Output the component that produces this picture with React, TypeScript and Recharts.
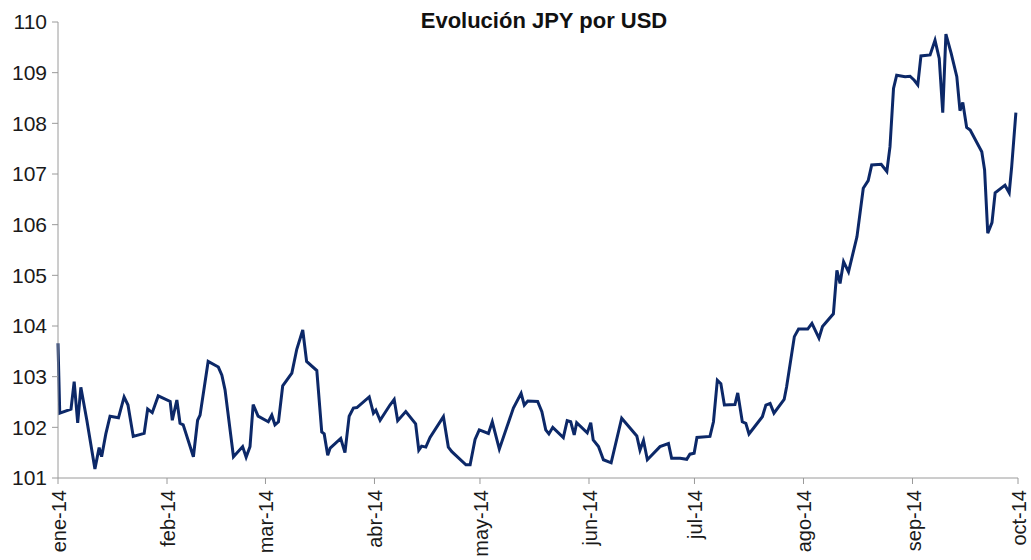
import { LineChart, Line, XAxis, YAxis } from "recharts";

// day offset from 1 Jan 2014 and JPY per USD
const days = [
  0, 0.5, 3.7, 4.6, 5.6, 6.5, 8.2, 10.5, 11.7, 12.4, 13.6, 14.8, 17.2, 18.8, 19.9, 21.4, 24.5, 25.5, 26.8, 28.5,
  31.9, 32.5, 33.8, 34.7, 35.6, 38.5, 39.7, 40.4, 42.7, 45.6, 46.6, 47.5, 49.9, 52.5, 53.5, 54.6, 55.5, 56.9,
  59.8, 60.8, 61.7, 62.7, 63.9, 66.5, 67.9, 69.6, 70.7, 73.6, 75.0, 75.7, 76.7, 77.4, 80.4, 81.6, 82.8, 84.0,
  85.0, 88.5, 89.7, 90.4, 91.6, 94.4, 95.6, 96.6, 98.9, 101.7, 102.6, 103.4, 104.6, 105.8, 109.6, 111.0, 112.0,
  116.0, 117.2, 118.6, 119.8, 122.4, 123.5, 125.5, 129.5, 131.7, 132.6, 133.6, 136.4, 137.6, 138.7, 139.6,
  140.7, 143.7, 144.8, 145.8, 146.8, 147.5, 150.5, 151.5, 152.2, 153.7, 155.1, 157.3, 160.3, 164.6, 165.5,
  166.5, 167.6, 171.2, 173.6, 174.5, 176.9, 178.8, 179.7, 180.9, 181.7, 185.4, 186.4, 187.5, 188.5, 189.5,
  192.5, 193.3, 194.6, 195.6, 196.5, 200.3, 201.3, 202.5, 203.6, 206.5, 207.2, 209.4, 210.6, 213.2, 214.4,
  216.4, 217.4, 220.5, 221.5, 222.4, 223.4, 224.8, 227.2, 229.0, 230.4, 231.4, 234.1, 235.7, 236.6, 237.6,
  238.5, 240.9, 242.3, 243.5, 244.5, 245.4, 248.0, 249.4, 250.6, 251.6, 252.5, 254.0, 255.6, 256.5, 257.3,
  258.4, 259.4, 262.7, 263.5, 264.4, 265.6, 266.5, 269.3, 270.5, 271.2, 272.4,
];

const jpyPerUsd = [
  103.66, 102.28, 102.36, 102.9, 102.09, 102.79, 102.14, 101.18, 101.6, 101.42, 101.87, 102.22, 102.19, 102.6, 102.44, 101.82, 101.88, 102.36, 102.29, 102.62,
  102.51, 102.14, 102.54, 102.08, 102.05, 101.42, 102.14, 102.24, 103.3, 103.19, 103.03, 102.74, 101.42, 101.62, 101.41, 101.62, 102.45, 102.22,
  102.11, 102.24, 102.05, 102.11, 102.82, 103.07, 103.54, 103.92, 103.3, 103.12, 101.91, 101.87, 101.45, 101.59, 101.78, 101.5, 102.22, 102.38,
  102.39, 102.6, 102.28, 102.34, 102.14, 102.44, 102.55, 102.13, 102.31, 102.07, 101.55, 101.63, 101.61, 101.8, 102.21, 101.61, 101.52,
  101.26, 101.26, 101.76, 101.95, 101.88, 102.11, 101.57, 102.38, 102.67, 102.44, 102.52, 102.51, 102.31, 101.95, 101.87,
  102.0, 101.8, 102.13, 102.11, 101.85, 102.09, 101.89, 102.09, 101.75, 101.62, 101.36, 101.3, 102.18, 101.83, 101.55,
  101.74, 101.36, 101.62, 101.68, 101.39, 101.39, 101.37, 101.47, 101.49, 101.8, 101.82, 102.11, 102.93, 102.86, 102.44,
  102.45, 102.68, 102.11, 102.08, 101.87, 102.21, 102.44, 102.47, 102.28, 102.55, 102.8, 103.79, 103.94, 103.94, 104.05,
  103.76, 103.99, 104.24, 105.1, 104.84, 105.27, 105.07, 105.76, 106.72, 106.87, 107.18, 107.19, 107.05, 107.54, 108.69,
  108.95, 108.92, 108.93, 108.85, 108.76, 109.33, 109.35, 109.64, 109.28, 108.21, 109.76, 109.38, 108.92, 108.25, 108.41,
  107.92, 107.87, 107.44, 107.08, 105.83, 106.04, 106.63, 106.78, 106.63, 107.14, 108.21,
];

const monthTicks = [0, 31, 59, 90, 120, 151, 181, 212, 243, 273];
const monthLabels = ["ene-14", "feb-14", "mar-14", "abr-14", "may-14", "jun-14", "jul-14", "ago-14", "sep-14", "oct-14"];
const yTicks = [101, 102, 103, 104, 105, 106, 107, 108, 109, 110];

const FONT = "'Liberation Sans', Arial, sans-serif";
const TEXT = "#1a1a1a";
const AXIS = "#9a9a9a";

const data = days.map((day, i) => ({ day, value: jpyPerUsd[i] }));

function MonthTick({ x, y, payload }: any) {
  const label = monthLabels[monthTicks.indexOf(payload.value)];
  return (
    <text
      x={0}
      y={0}
      transform={`translate(${x + 8},${y + 4}) rotate(-90)`}
      textAnchor="end"
      fontSize={20}
      fontFamily={FONT}
      fill={TEXT}
    >
      {label}
    </text>
  );
}

export default function App() {
  return (
    <div style={{ position: "absolute", left: 0, top: 0, width: 1031, height: 560, background: "#fff" }}>
      <div
        style={{
          position: "absolute",
          left: 344,
          top: 8,
          width: 400,
          textAlign: "center",
          fontFamily: FONT,
          fontWeight: "bold",
          fontSize: 22,
          color: "#111",
        }}
      >
        Evolución JPY por USD
      </div>
      <LineChart width={1031} height={560} data={data} margin={{ top: 22, right: 13, left: 0, bottom: 0 }}>
        <XAxis
          dataKey="day"
          type="number"
          domain={[0, 273]}
          ticks={monthTicks}
          interval={0}
          height={82}
          stroke={AXIS}
          tickSize={6}
          tickMargin={2}
          tick={<MonthTick />}
        />
        <YAxis
          type="number"
          domain={[101, 110]}
          ticks={yTicks}
          interval={0}
          width={58}
          stroke={AXIS}
          tickSize={6}
          tickMargin={5}
          tick={{ fontSize: 21, fontFamily: FONT, fill: TEXT }}
        />
        <Line
          type="linear"
          dataKey="value"
          stroke="#0c2868"
          strokeWidth={3}
          dot={false}
          isAnimationActive={false}
        />
      </LineChart>
    </div>
  );
}
